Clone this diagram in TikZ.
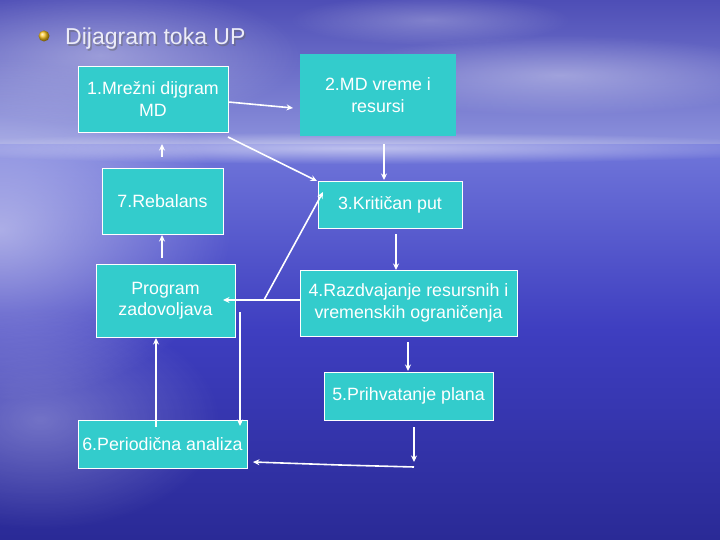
\documentclass[tikz,border=0pt]{standalone}
\usepackage{fontspec}
\setmainfont{Liberation Sans}
\usetikzlibrary{arrows.meta,fadings}
\definecolor{skytop}{RGB}{78,78,182}
\definecolor{skylow}{RGB}{140,145,220}
\definecolor{seatop}{RGB}{112,118,218}
\definecolor{seamid}{RGB}{62,62,192}
\definecolor{seabot}{RGB}{42,42,150}
\definecolor{boxfill}{RGB}{51,204,204}
\definecolor{titlecol}{RGB}{236,236,248}
\definecolor{bullet}{RGB}{250,196,30}
\tikzfading[name=softglow, inner color=transparent!0, outer color=transparent!100]
\tikzset{
  box/.style={rectangle, fill=boxfill, draw=white, line width=0.8pt, inner sep=0pt,
    text=white, font=\fontsize{17.8}{21.5}\selectfont, align=center},
  conn/.style={draw=white, line width=1.6pt, -{Stealth[length=6.5pt,width=6pt]}},
  haze/.style={fill=white, path fading=softglow}
}
\begin{document}
\begin{tikzpicture}[x=1pt,y=-1pt]
\useasboundingbox (0,0) rectangle (720,540);
% background
\shade[top color=skytop, bottom color=skylow] (0,0) rectangle (720,145);
\shade[top color=seatop, bottom color=seamid] (0,145) rectangle (720,330);
\shade[top color=seamid, bottom color=seabot] (0,330) rectangle (720,540);
\fill[haze, opacity=0.55] (360,148) ellipse (460 and 16);
\fill[haze, opacity=0.5] (0,230) ellipse (230 and 170);
\fill[haze, opacity=0.3] (40,420) ellipse (180 and 110);
\fill[haze, opacity=0.35] (100,55) ellipse (200 and 70);
\fill[haze, opacity=0.35] (560,75) ellipse (230 and 40);
\fill[haze, opacity=0.25] (430,20) ellipse (140 and 25);
% title
\shade[ball color=bullet] (44,36) circle (5.5);
\node[anchor=base west, text=black!60, opacity=0.5, font=\fontsize{23}{27}\selectfont, inner sep=0pt] at (66.5,46.5) {Dijagram toka UP};
\node[anchor=base west, text=titlecol, font=\fontsize{23}{27}\selectfont, inner sep=0pt] (title) at (65,45) {Dijagram toka UP};
% boxes
\node[box, minimum width=150, minimum height=66] (b1) at (153,99) {1.Mrežni dijgram\\MD};
\node[box, draw=none, minimum width=156, minimum height=82] (b2) at (378,95) {2.MD vreme i\\resursi};
\node[box, minimum width=121, minimum height=66] (b7) at (162.5,201) {7.Rebalans};
\node[box, minimum width=139, minimum height=73] (bp) at (165.5,300.5) {Program\\zadovoljava};
\node[box, minimum width=144, minimum height=47] (b3) at (390,204.5) {3.Kritičan put};
\node[box, minimum width=217, minimum height=66] (b4) at (408.5,303) {4.Razdvajanje resursnih i\\vremenskih ograničenja};
\node[box, minimum width=169, minimum height=48] (b5) at (408.5,396) {5.Prihvatanje plana};
\node[box, minimum width=169, minimum height=48] (b6) at (162.5,444) {6.Periodična analiza};
% connector points
\coordinate (p1e) at (293,108);
\coordinate (p2s) at (228,137);
\coordinate (p2e) at (317,181);
\coordinate (p3s) at (162,157);
\coordinate (p3e) at (162,144);
\coordinate (p4s) at (384,144);
\coordinate (p4e) at (384,180);
\coordinate (p5s) at (396,234);
\coordinate (p5e) at (396,270);
\coordinate (p6e) at (223,300);
\coordinate (p7s) at (264,300);
\coordinate (p7e) at (323,192);
\coordinate (p8s) at (162,258);
\coordinate (p8e) at (162,235);
\coordinate (p9s) at (240,312);
\coordinate (p9e) at (240,426);
\coordinate (p10s) at (156,427);
\coordinate (p10e) at (156,338);
\coordinate (p11s) at (408,342);
\coordinate (p11e) at (408,371);
\coordinate (p12s) at (414,427);
\coordinate (p12e) at (414,462);
\coordinate (p13m) at (340,465);
\coordinate (p13e) at (253,462);
% connectors
\draw[conn] (b1.east |- 0,102) -- (p1e);
\draw[conn] (p2s) -- (p2e);
\draw[conn] (p3s) -- (p3e);
\draw[conn] (p4s) -- (p4e);
\draw[conn] (p5s) -- (p5e);
\draw[conn] (b4.west |- p6e) -- (p6e);
\draw[conn] (p7s) -- (p7e);
\draw[conn] (p8s) -- (p8e);
\draw[conn] (p9s) -- (p9e);
\draw[conn] (p10s) -- (p10e);
\draw[conn] (p11s) -- (p11e);
\draw[conn] (p12s) -- (p12e);
\draw[conn] (414,467) -- (p13m) -- (p13e);
\end{tikzpicture}
\end{document}
